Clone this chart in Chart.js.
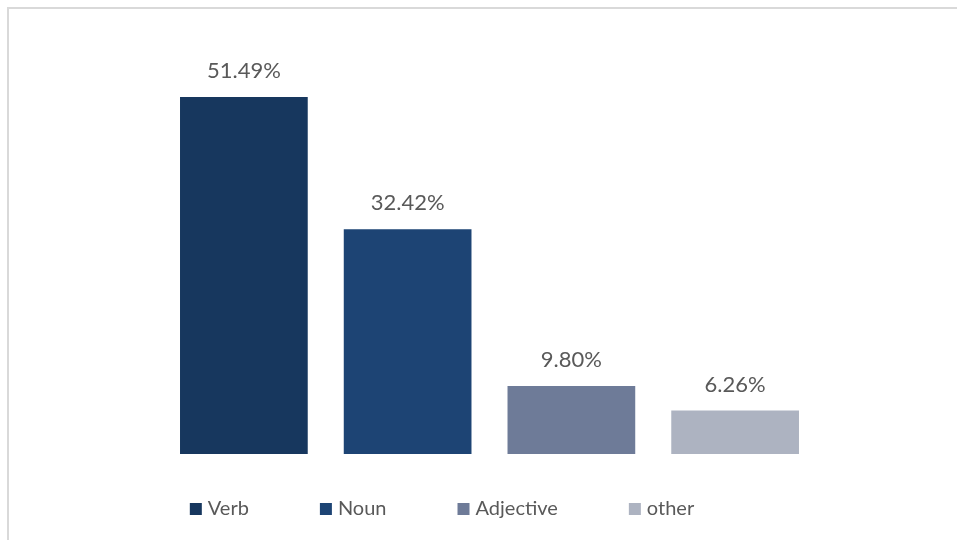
<!DOCTYPE html>
<html>
<head>
<meta charset="utf-8">
<script src="https://cdn.jsdelivr.net/npm/chart.js@4"></script>
<style>
  html, body { margin: 0; padding: 0; background: #fff; }
  #wrap { position: relative; width: 957px; height: 540px; overflow: hidden; }
  #frame { position: absolute; left: 7px; top: 7px; width: 1000px; height: 600px;
           border-left: 2px solid #d9d9d9; border-top: 2px solid #d9d9d9; }
  #chart { position: absolute; left: 0; top: 0; }
</style>
</head>
<body>
<div id="wrap">
  <div id="frame"></div>
  <canvas id="chart" width="957" height="540"></canvas>
</div>
<script>
// parts of speech share (%)
const categories = ["Verb", "Noun", "Adjective", "other"];
const shares = [51.49, 32.42, 9.80, 6.26];
const colors = ["#17375e", "#1d4474", "#6e7b98", "#adb3c1"];

const FONT = "Lato, 'Open Sans', sans-serif";
const GREY = "#595959";

// value labels above each bar
const barLabels = {
  id: "barLabels",
  afterDatasetsDraw(chart) {
    const c = chart.ctx;
    const meta = chart.getDatasetMeta(0);
    c.save();
    c.font = "22px " + FONT;
    c.fillStyle = GREY;
    c.textAlign = "center";
    c.textBaseline = "middle";
    meta.data.forEach((bar, i) => {
      c.fillText(shares[i].toFixed(2) + "%", bar.x, bar.y - 26);
    });
    c.restore();
  }
};

// legend row under the plot, one entry per category
const bottomLegend = {
  id: "bottomLegend",
  afterDraw(chart) {
    const c = chart.ctx;
    const box = 12, gap = 6, spacing = 71;
    const centerX = 442, y = 509;
    c.save();
    c.font = "20px " + FONT;
    c.textBaseline = "middle";
    const widths = categories.map(t => box + gap + c.measureText(t).width);
    const total = widths.reduce((a, b) => a + b, 0) + spacing * (categories.length - 1);
    let x = centerX - total / 2;
    categories.forEach((t, i) => {
      c.fillStyle = colors[i];
      c.fillRect(x, y - box / 2, box, box);
      c.fillStyle = GREY;
      c.fillText(t, x + box + gap, y);
      x += widths[i] + spacing;
    });
    c.restore();
  }
};

new Chart(document.getElementById("chart"), {
  type: "bar",
  data: {
    labels: categories,
    datasets: [{
      data: shares,
      backgroundColor: colors,
      borderWidth: 0,
      categoryPercentage: 1,
      barPercentage: 0.78
    }]
  },
  options: {
    responsive: false,
    animation: false,
    layout: { padding: { left: 162, right: 140, top: 38, bottom: 86 } },
    scales: {
      x: { display: false },
      y: { display: false, min: 0, max: 60 }
    },
    plugins: { legend: { display: false }, tooltip: { enabled: false } }
  },
  plugins: [barLabels, bottomLegend]
});
</script>
</body>
</html>
